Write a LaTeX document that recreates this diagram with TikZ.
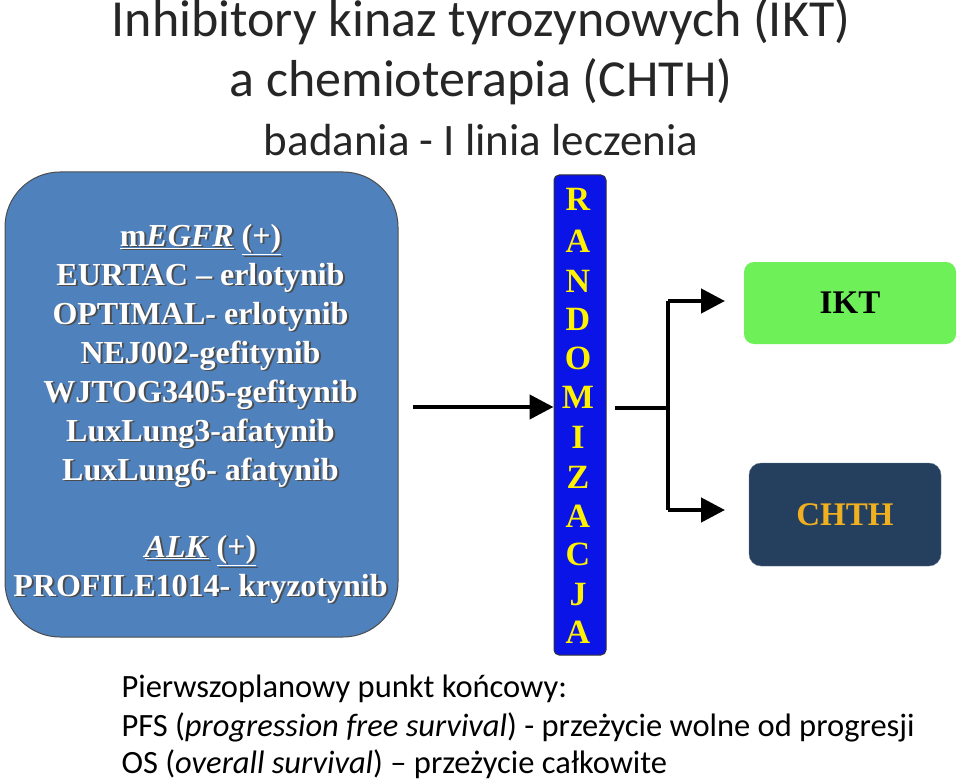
\documentclass[tikz,border=0pt]{standalone}
\usepackage{fontspec}
\setmainfont{Liberation Serif}
\newfontfamily\carlfont{Carlito}
\usetikzlibrary{shadows,arrows.meta}
\definecolor{boxblue}{HTML}{4F81BD}
\definecolor{randblue}{HTML}{0A14E6}
\definecolor{ikt}{HTML}{6EF059}
\definecolor{chth}{HTML}{253F5F}
\definecolor{gold}{HTML}{F0B020}
\definecolor{ttl}{HTML}{262626}
\begin{document}
\begin{tikzpicture}[x=1pt,y=-1pt,
  wt/.style={text=white,font=\fontsize{32}{32}\selectfont\bfseries,anchor=base},
  sh/.style={text=black!70,font=\fontsize{32}{32}\selectfont\bfseries,anchor=base},
  rl/.style={text=yellow,font=\fontsize{34}{34}\selectfont\bfseries,anchor=base},
  arr/.style={line width=4.5pt,-{Triangle[length=24pt,width=24pt]}},
  ln/.style={line width=4.5pt}]
\useasboundingbox (0,0) rectangle (959,781);
\fill[white] (0,0) rectangle (959,781);
\node[draw=black!70,line width=1pt,fill=boxblue,rounded corners=55pt,minimum width=393pt,minimum height=465pt] (left) at (201.5,404.5) {};
\foreach \y/\t [count=\i] in {246/{\underline{m\textit{EGFR}} \underline{(+)}},285/{EURTAC – erlotynib},324/{OPTIMAL- erlotynib},363/{NEJ002-gefitynib},402/{WJTOG3405-gefitynib},441/{LuxLung3-afatynib},480/{LuxLung6- afatynib},557/{\underline{\textit{ALK}} \underline{(+)}},596/{PROFILE1014- kryzotynib}}{
  \node[sh] at (202.5,\y+1.5) {\t};
  \node[wt] (l\i) at (200.5,\y) {\t};
}
\node[draw=black!80,line width=1pt,fill=randblue,rounded corners=5pt,minimum width=52pt,minimum height=480pt] (rand) at (580,415) {};
\foreach \y/\c [count=\i] in {211/R,252/A,292/N,330/D,369/O,408/M,448/I,488/Z,527/A,565/C,605/J,643/A}{
  \node[rl] (r\i) at (578,\y) {\c};
}
\node[fill=ikt,rounded corners=10pt,minimum width=212pt,minimum height=82pt] (ikt) at (850,303) {};
\node[font=\fontsize{33}{33}\selectfont\bfseries] at (ikt) {IKT};
\node[fill=chth,draw=chth!70,rounded corners=12pt,minimum width=192pt,minimum height=103pt] (chth) at (845,514.5) {};
\node[font=\fontsize{33}{33}\selectfont\bfseries,text=gold] at (chth) {CHTH};
\coordinate (a0) at (413,407);
\coordinate (b0) at (615,408);
\coordinate (bj) at (668,408);
\coordinate (bt) at (668,301);
\coordinate (bb) at (668,510);
\coordinate (et) at (725,301);
\coordinate (eb) at (725,510);
\draw[arr] (a0) -- (rand.west|-a0);
\draw[ln] (b0) -- (bj);
\draw[ln] (bt) -- (bb);
\draw[arr] (bt) -- (et);
\draw[arr] (bb) -- (eb);
\node[text=ttl,font=\carlfont\fontsize{52}{52}\selectfont] (t1) at (481,22) {Inhibitory kinaz tyrozynowych (IKT)};
\node[text=ttl,font=\carlfont\fontsize{52}{52}\selectfont] (t2) at (481,82) {a chemioterapia (CHTH)};
\node[text=ttl,font=\carlfont\fontsize{45}{45}\selectfont] (t3) at (481,140) {badania - I linia leczenia};
\node[anchor=base west,font=\carlfont\fontsize{32.5}{32.5}\selectfont] (p1) at (118,697) {Pierwszoplanowy punkt końcowy:};
\node[anchor=base west,font=\carlfont\fontsize{32.5}{32.5}\selectfont] (p2) at (118,736) {PFS (\textit{progression free survival}) - przeżycie wolne od progresji};
\node[anchor=base west,font=\carlfont\fontsize{32.5}{32.5}\selectfont] (p3) at (118,773) {OS (\textit{overall survival}) – przeżycie całkowite};
\end{tikzpicture}
\end{document}
